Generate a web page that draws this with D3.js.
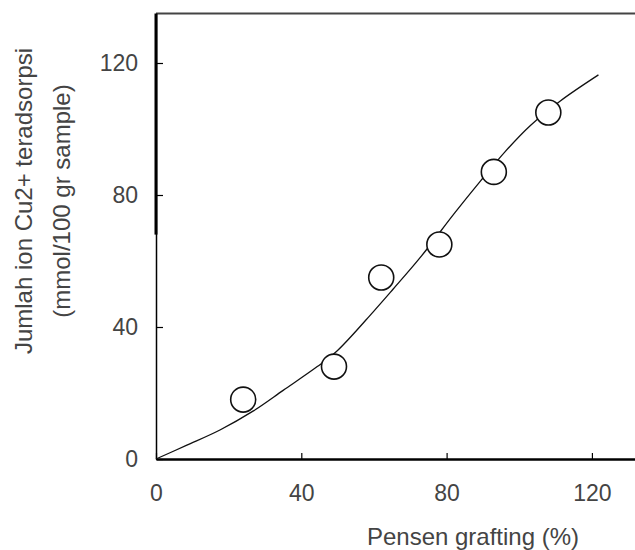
<!DOCTYPE html>
<html>
<head>
<meta charset="utf-8">
<script src="https://cdn.jsdelivr.net/npm/d3@7"></script>
<style>
  body { margin: 0; background: #fff; }
  text { font-family: "Liberation Sans", Arial, sans-serif; }
</style>
</head>
<body>
<div id="chart"></div>
<script>
// data
const grafting = [24, 49, 62, 78, 93, 108];
const adsorbed = [18, 28, 55, 65, 87, 105];

// trend line
const fitX = [0, 8.5, 17.6, 26.7, 35, 44.4, 49.9, 59.8, 65.3, 72.7, 82.4, 89.3, 96, 103, 111.3, 121.8];
const fitY = [0, 4.2, 8.8, 14.5, 20.8, 28, 32.8, 44.6, 51.5, 61, 74.8, 84.2, 93, 101, 108.5, 116.4];

const xTicks = [0, 40, 80, 120];
const yTicks = [0, 40, 80, 120];

const W = 635, H = 550;
const svg = d3.select("#chart").append("svg")
    .attr("width", W).attr("height", H);

// scales
const x = d3.scaleLinear().domain([0, 132]).range([156, 635.5]);
const y = d3.scaleLinear().domain([0, 135]).range([459, 13.5]);

// top frame line
svg.append("line")
    .attr("x1", x(0)).attr("x2", W)
    .attr("y1", y(135)).attr("y2", y(135))
    .attr("stroke", "#444").attr("stroke-width", 2);

// axes
const xAxis = svg.append("g")
    .attr("transform", `translate(0,${y(0)})`)
    .call(d3.axisBottom(x).tickValues(xTicks).tickSize(-6).tickPadding(26).tickSizeOuter(0));
xAxis.select(".domain").attr("stroke", "#000").attr("stroke-width", 2.5);
xAxis.selectAll(".tick line").attr("stroke", "#000").attr("stroke-width", 1.2);
xAxis.selectAll(".tick text").attr("font-size", 23).attr("fill", "#444")
    .attr("font-family", "Liberation Sans, Arial, sans-serif");

const yAxis = svg.append("g")
    .attr("transform", `translate(${x(0)},0)`)
    .call(d3.axisLeft(y).tickValues(yTicks).tickSize(-7).tickPadding(18).tickSizeOuter(0));
yAxis.select(".domain").attr("stroke", "#000").attr("stroke-width", 1.5);
yAxis.selectAll(".tick line").attr("stroke", "#000").attr("stroke-width", 1.2);
yAxis.selectAll(".tick text").attr("font-size", 23).attr("fill", "#444")
    .attr("font-family", "Liberation Sans, Arial, sans-serif");

// thicker upper part of the left axis, as in the original scan
svg.append("line")
    .attr("x1", x(0)).attr("x2", x(0))
    .attr("y1", y(135)).attr("y2", y(68))
    .attr("stroke", "#000").attr("stroke-width", 3);

// fitted curve
const fit = fitX.map((v, i) => [v, fitY[i]]);
svg.append("path")
    .datum(fit)
    .attr("fill", "none")
    .attr("stroke", "#111")
    .attr("stroke-width", 1.3)
    .attr("d", d3.line().x(d => x(d[0])).y(d => y(d[1])).curve(d3.curveCatmullRom));

// data points
svg.selectAll(".pt")
    .data(grafting.map((g, i) => ({ g, a: adsorbed[i] })))
    .enter().append("circle")
    .attr("class", "pt")
    .attr("cx", d => x(d.g))
    .attr("cy", d => y(d.a))
    .attr("r", 12.5)
    .attr("fill", "#fff")
    .attr("stroke", "#111")
    .attr("stroke-width", 1.6);

// axis titles
svg.append("text")
    .attr("x", 473).attr("y", 545)
    .attr("text-anchor", "middle")
    .attr("font-size", 24).attr("fill", "#444")
    .text("Pensen grafting (%)");

svg.append("text")
    .attr("transform", "translate(32,201) rotate(-90)")
    .attr("text-anchor", "middle")
    .attr("font-size", 24).attr("fill", "#444")
    .text("Jumlah ion Cu2+ teradsorpsi");

svg.append("text")
    .attr("transform", "translate(70,201) rotate(-90)")
    .attr("text-anchor", "middle")
    .attr("font-size", 24).attr("fill", "#444")
    .text("(mmol/100 gr sample)");
</script>
</body>
</html>
